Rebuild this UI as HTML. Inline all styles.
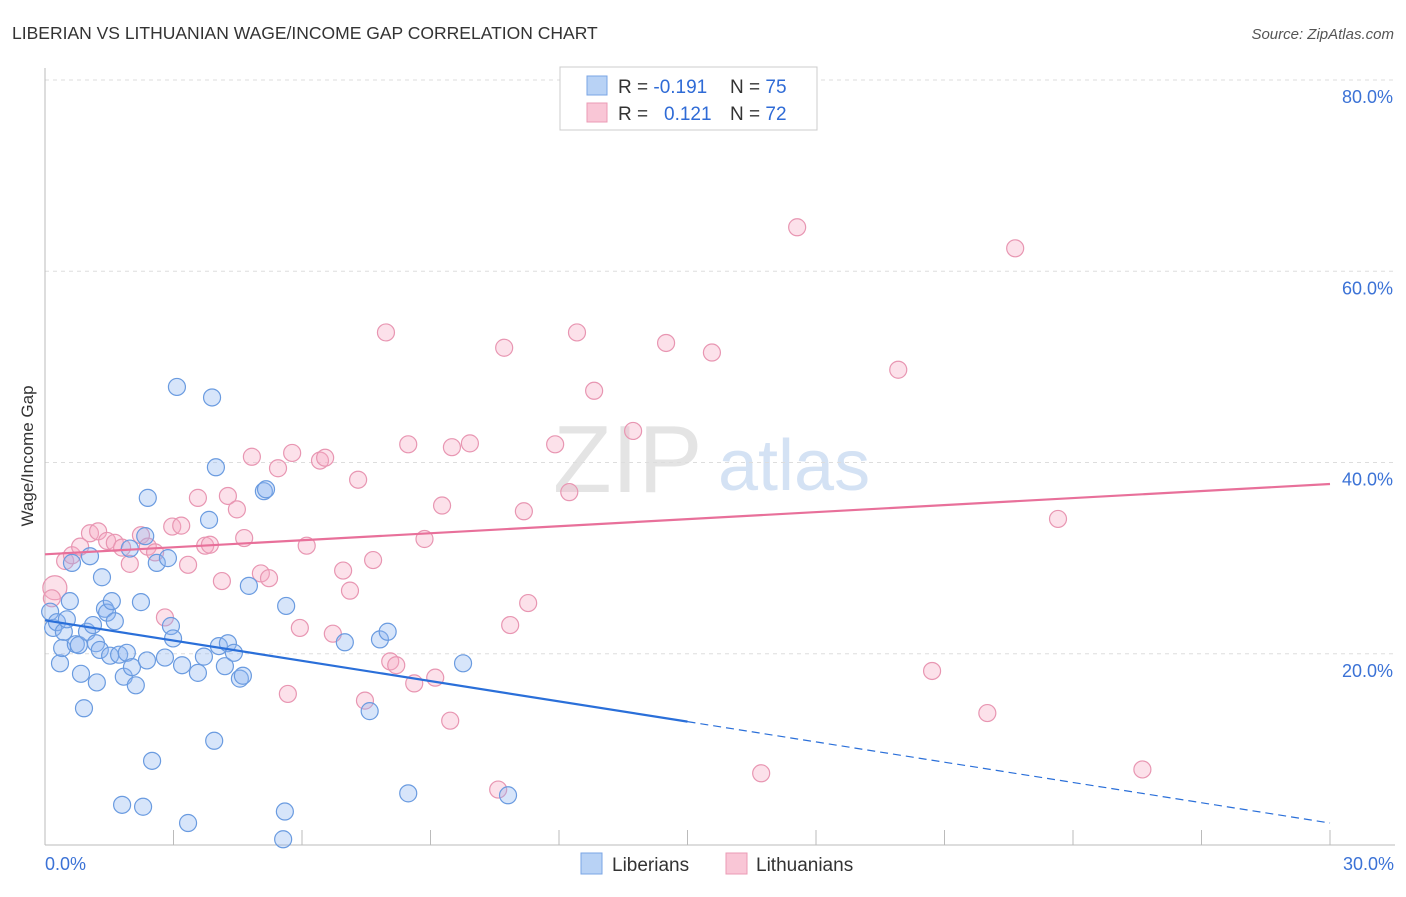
<!DOCTYPE html>
<html><head><meta charset="utf-8"><style>
body{margin:0;background:#fff;font-family:"Liberation Sans",sans-serif;}
svg text{font-family:"Liberation Sans",sans-serif;}
</style></head><body>
<svg id="chart" width="1406" height="892" xmlns="http://www.w3.org/2000/svg">
<text x="12" y="39" font-size="17.5" fill="#333">LIBERIAN VS LITHUANIAN WAGE/INCOME GAP CORRELATION CHART</text>
<text x="1394" y="39" font-size="15" fill="#555" text-anchor="end" font-style="italic">Source: ZipAtlas.com</text>
<g>
<text x="553" y="492" font-size="96" fill="#e4e4e4" font-family="Liberation Serif,serif">ZIP</text>
<text x="718" y="490" font-size="72" fill="#d4e2f4">atlas</text>
</g>
<text transform="translate(33,456) rotate(-90)" font-size="17" fill="#333" text-anchor="middle">Wage/Income Gap</text>
<g id="grid"></g>
<g id="axes"></g>
<g id="marks"></g>
<g>
<rect x="560" y="67" width="257" height="63" fill="#fff" stroke="#ccc"/>
<rect x="587" y="76" width="20" height="19" fill="#b8d2f5" stroke="#7aa5e5"/>
<rect x="587" y="103" width="20" height="19" fill="#f9c6d6" stroke="#eb9bb5"/>
<text x="618" y="93" font-size="19" fill="#333">R = <tspan fill="#2f6bd6">-0.191</tspan></text>
<text x="730" y="93" font-size="19" fill="#333">N = <tspan fill="#2f6bd6">75</tspan></text>
<text x="618" y="120" font-size="19" fill="#333">R = <tspan fill="#2f6bd6" x="664">0.121</tspan></text>
<text x="730" y="120" font-size="19" fill="#333">N = <tspan fill="#2f6bd6">72</tspan></text>
</g>
<g>
<rect x="581" y="853" width="21" height="21" fill="#b8d2f5" stroke="#7aa5e5"/>
<text x="612" y="871" font-size="19" fill="#333">Liberians</text>
<rect x="726" y="853" width="21" height="21" fill="#f9c6d6" stroke="#eb9bb5"/>
<text x="756" y="871" font-size="19" fill="#333">Lithuanians</text>
</g>
</svg>
<script>
const yTicks=[20,40,60,80];
const yTickLabels=["20.0%","40.0%","60.0%","80.0%"];
const xTickLabels=["0.0%","30.0%"];
const libX=[0.12,0.19,0.28,0.35,0.4,0.44,0.51,0.58,0.63,0.72,0.79,0.84,0.91,0.98,1.05,1.12,1.19,1.21,1.28,1.33,1.4,1.45,1.52,1.56,1.63,1.73,1.8,1.84,1.91,1.98,2.03,2.12,2.24,2.29,2.34,2.38,2.4,2.5,2.61,2.8,2.87,2.94,2.99,3.08,3.2,3.34,3.57,3.71,3.83,3.9,3.95,3.99,4.06,4.2,4.27,4.41,4.55,4.62,4.76,5.11,5.16,5.6,5.63,5.56,7.0,7.58,7.82,8.0,8.48,9.76,10.81];
const libY=[24.4,22.7,23.3,19.0,20.6,22.3,23.6,25.5,29.5,21.0,20.9,17.9,14.3,22.3,30.2,23.0,21.1,17.0,20.4,28.0,24.7,24.3,19.8,25.5,23.4,19.9,4.2,17.6,20.1,31.0,18.6,16.7,25.4,4.0,32.3,19.3,36.3,8.8,29.5,19.6,30.0,22.9,21.6,47.9,18.8,2.3,18.0,19.7,34.0,46.8,10.9,39.5,20.8,18.7,21.1,20.1,17.4,17.7,27.1,37.0,37.2,3.5,25.0,0.6,21.2,14.0,21.5,22.3,5.4,19.0,5.2];
const litX=[0.23,0.16,0.47,0.63,0.82,1.05,1.24,1.45,1.63,1.8,1.98,2.24,2.4,2.57,2.8,2.97,3.18,3.34,3.57,3.74,3.85,4.13,4.27,4.48,4.65,4.83,5.04,5.23,5.44,5.67,5.77,5.95,6.11,6.42,6.54,6.72,6.96,7.12,7.31,7.47,7.66,7.96,8.06,8.2,8.48,8.62,8.86,9.11,9.27,9.46,9.5,9.92,10.58,10.72,10.86,11.18,11.28,11.91,12.24,12.42,12.82,13.73,14.5,15.57,16.72,17.56,19.92,20.71,22.0,22.65,23.65,25.62];
const litY=[26.9,25.8,29.7,30.3,31.2,32.6,32.8,31.8,31.6,31.1,29.4,32.4,31.2,30.6,23.8,33.3,33.4,29.3,36.3,31.3,31.4,27.6,36.5,35.1,32.1,40.6,28.4,27.9,39.4,15.8,41.0,22.7,31.3,40.2,40.5,22.1,28.7,26.6,38.2,15.1,29.8,53.6,19.2,18.8,41.9,16.9,32.0,17.5,35.5,13.0,41.6,42.0,5.8,52.0,23.0,34.9,25.3,41.9,36.9,53.6,47.5,43.3,52.5,51.5,7.5,64.6,49.7,18.2,13.8,62.4,34.1,7.9];
const libTrend=[23.5,2.3];
const litTrend=[30.4,37.75];
const libSolidEnd=15.0;

const NS="http://www.w3.org/2000/svg";
const X0=45,X1=1330,Y0=845,PPY=9.5625;
function sx(v){return X0+(v/30)*(X1-X0);}
function sy(v){return Y0-v*PPY;}
function mk(tag,attrs,parent){const e=document.createElementNS(NS,tag);for(const k in attrs)e.setAttribute(k,attrs[k]);parent.appendChild(e);return e;}
const grid=document.getElementById('grid'),axes=document.getElementById('axes'),marks=document.getElementById('marks');
yTicks.forEach((t,i)=>{
 const l=mk('line',{x1:45,x2:1395,y1:sy(t),y2:sy(t),stroke:'#ddd','stroke-dasharray':'4,4'},grid);
 
 
 const tx=mk('text',{x:1393,y:sy(t)+23,'font-size':18,fill:'#3b72d6','text-anchor':'end'},axes);
 tx.textContent=yTickLabels[i];
 
 
});
const ya=mk('line',{x1:45,x2:45,y1:68,y2:845,stroke:'#bbb'},axes);


const xa=mk('line',{x1:45,x2:1395,y1:845,y2:845,stroke:'#bbb'},axes);


for(let i=0;i<=10;i++){
 const t=mk('line',{x1:sx(i*3),x2:sx(i*3),y1:830,y2:845,stroke:'#bbb'},axes);
 
 
}
[[0,'start',45],[30,'end',1394]].forEach((d,i)=>{
 const tx=mk('text',{x:d[2],y:870,'font-size':18,fill:'#3b72d6','text-anchor':d[1]},axes);
 tx.textContent=xTickLabels[i];
 
 
});
litX.forEach((x,i)=>{
 const c=mk('circle',{cx:sx(x),cy:sy(litY[i]),r:i===0?12:8.5,fill:'rgba(245,170,195,0.35)',stroke:'#e896b2','stroke-width':1.2},marks);
 
 
});
libX.forEach((x,i)=>{
 const c=mk('circle',{cx:sx(x),cy:sy(libY[i]),r:8.5,fill:'rgba(140,180,240,0.35)',stroke:'#6a9be0','stroke-width':1.2},marks);
 
 
});
function ty(tr,x){return tr[0]+(tr[1]-tr[0])*x/30;}
const lt=mk('line',{x1:sx(0),y1:sy(litTrend[0]),x2:sx(30),y2:sy(litTrend[1]),stroke:'#e8709a','stroke-width':2.2},marks);


const bt=mk('line',{x1:sx(0),y1:sy(libTrend[0]),x2:sx(libSolidEnd),y2:sy(ty(libTrend,libSolidEnd)),stroke:'#2a6fd9','stroke-width':2.2},marks);


const bd=mk('line',{x1:sx(libSolidEnd),y1:sy(ty(libTrend,libSolidEnd)),x2:sx(30),y2:sy(libTrend[1]),stroke:'#2a6fd9','stroke-width':1.2,'stroke-dasharray':'8,5'},marks);


</script>
</body></html>
